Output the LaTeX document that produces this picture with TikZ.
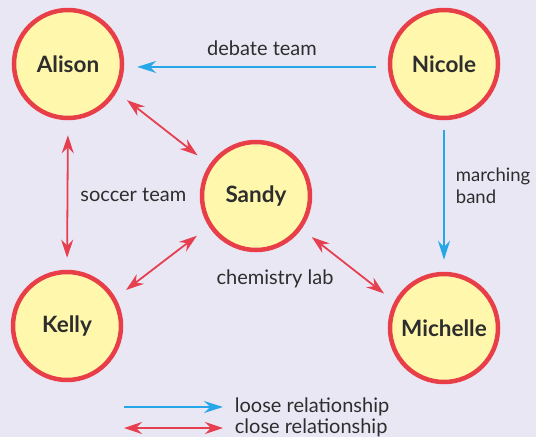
\documentclass[tikz,border=0pt]{standalone}
\usepackage{fontspec}
\setmainfont{Lato}
\usetikzlibrary{arrows.meta,positioning}
\definecolor{pagebg}{RGB}{234,231,245}
\definecolor{ringred}{RGB}{232,62,72}
\definecolor{discfill}{RGB}{255,248,172}
\definecolor{looseblue}{RGB}{38,168,232}
\definecolor{closered}{RGB}{230,64,80}
\definecolor{inkgray}{RGB}{45,45,45}
\tikzset{
    %Define style for the people
    person/.style={
           circle,
           draw=ringred, line width=4.5pt,
           fill=discfill,
           minimum size=108pt,
           inner sep=0pt,
           text=inkgray,
           font=\fontsize{22.5}{26}\selectfont\bfseries},
    % Define arrow styles
    looselink/.style={
           -{Stealth[length=19pt,width=12pt]},
           draw=looseblue, line width=1.8pt},
    closelink/.style={
           {Stealth[length=18pt,width=12pt]}-{Stealth[length=18pt,width=12pt]},
           draw=closered, line width=1.8pt},
    % Define style for labels
    tag/.style={
           text=inkgray,
           inner sep=2pt,
           font=\fontsize{20}{23}\selectfont}
}
\begin{document}
\begin{tikzpicture}[x=1pt, y=-1pt]
 \fill[pagebg] (0,0) rectangle (536,437);
 \useasboundingbox (0,0) rectangle (536,437);

 \node[person] (alison) at (68,64) {Alison};
 \node[person] (nicole) at (444,64) {Nicole};
 \node[person] (sandy) at (256,196) {Sandy};
 \node[person] (kelly) at (67,326) {Kelly};
 \node[person] (michelle) at (444,328) {Michelle};

 \draw[looselink, shorten <=12pt, shorten >=13pt] (nicole.183) --
   node[tag, above=8pt, xshift=6pt] {debate team} (alison.-3);
 \draw[looselink, shorten <=10pt, shorten >=12pt] (nicole.south) --
   node[tag, right=9pt, align=left, pos=0.43, font=\fontsize{18.5}{22}\selectfont] {marching\\band} (michelle.north);

 \draw[closelink, shorten <=13pt, shorten >=15pt] (alison.-30) -- (sandy.146);
 \draw[closelink, shorten <=15pt, shorten >=12pt] (alison.south) --
   node[tag, right=10pt] {soccer team} (kelly.north);
 \draw[closelink, shorten <=15pt, shorten >=13pt] (sandy.213) -- (kelly.30);
 \draw[closelink, shorten <=13pt, shorten >=13pt] (sandy.-36) -- (michelle.152);
 \node[tag] (chem) at (275,279) {chemistry lab};

 % key
 \coordinate (looseA) at (124,407);
 \coordinate (looseB) at (223,407);
 \coordinate (closeA) at (124,428);
 \coordinate (closeB) at (223,428);
 \draw[looselink] (looseA) -- (looseB) node[tag, right=9pt] {loose relationship};
 \draw[closelink] (closeA) -- (closeB) node[tag, right=9pt] {close relationship};
\end{tikzpicture}
\end{document}
